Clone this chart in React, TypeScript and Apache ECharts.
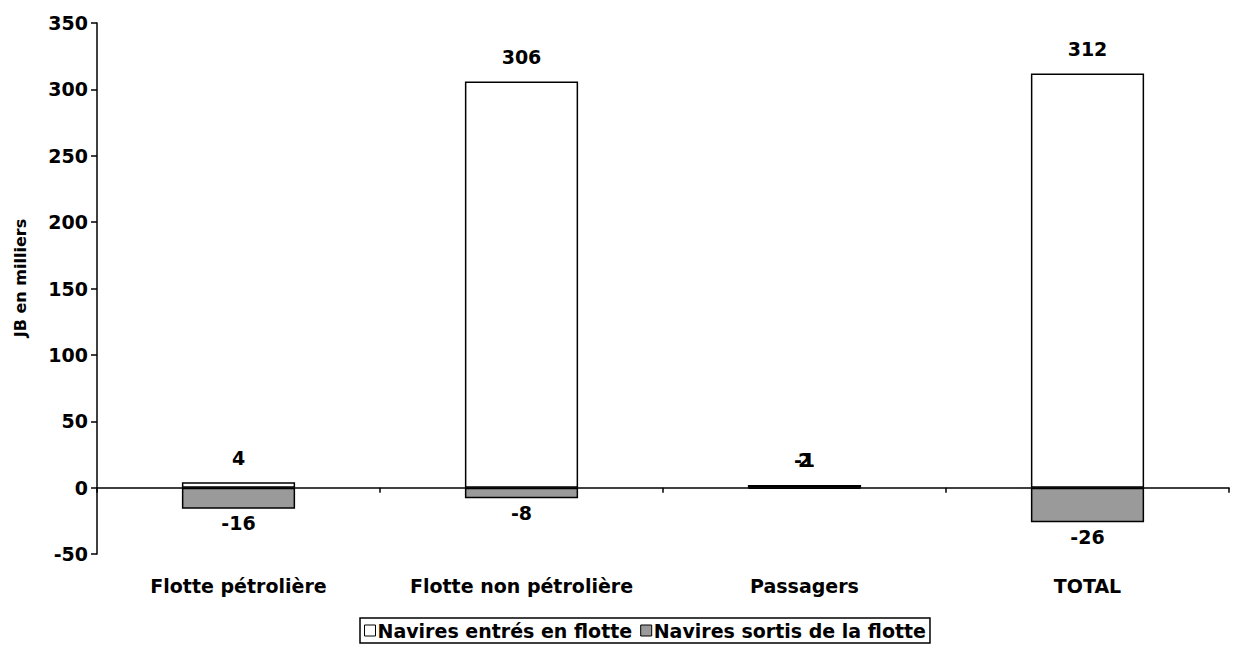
import React, { useEffect, useRef } from "react";
import * as echarts from "echarts";

const categories = ["Flotte pétrolière", "Flotte non pétrolière", "Passagers", "TOTAL"];
const entered = [4, 306, 2, 312];
const exited = [-16, -8, -1, -26];
const seriesNames = ["Navires entrés en flotte", "Navires sortis de la flotte"];
const yAxisName = "JB en milliers";

const FONT = "'DejaVu Sans', 'Liberation Sans', Arial, sans-serif";

export default function App() {
  const ref = useRef<HTMLDivElement>(null);
  useEffect(() => {
    if (!ref.current) return;
    const chart = echarts.init(ref.current, undefined, { renderer: "svg" });
    const labelStyle = {
      show: true,
      color: "#000",
      fontFamily: FONT,
      fontWeight: "bold" as const,
      fontSize: 19,
    };
    chart.setOption({
      animation: false,
      backgroundColor: "#fff",
      textStyle: { fontFamily: FONT },
      grid: { left: 97, right: 18, top: 23, bottom: 109, containLabel: false },
      legend: {
        show: true,
        left: 360,
        top: 618,
        itemWidth: 11,
        itemHeight: 11,
        itemGap: 8,
        padding: [3, 4, 3, 4],
        borderColor: "#000",
        borderWidth: 1.5,
        textStyle: { fontFamily: FONT, fontWeight: "bold", fontSize: 19, color: "#000", padding: [0, 0, 0, -3] },
        data: [
          { name: seriesNames[0], icon: "rect", itemStyle: { color: "#fff", borderColor: "#000", borderWidth: 1 } },
          { name: seriesNames[1], icon: "rect", itemStyle: { color: "#9a9a9a", borderColor: "#000", borderWidth: 1 } },
        ],
      },
      graphic: [
        {
          type: "text",
          x: 20,
          y: 278,
          rotation: Math.PI / 2,
          style: {
            text: yAxisName,
            textAlign: "center",
            textVerticalAlign: "middle",
            fontFamily: FONT,
            fontWeight: "bold",
            fontSize: 16,
            fill: "#000",
          },
        },
      ],
      xAxis: [
        {
          type: "category",
          data: categories,
          axisLine: { onZero: true, lineStyle: { color: "#000", width: 1.5 } },
          axisTick: { show: true, length: 5, lineStyle: { color: "#000", width: 1.5 } },
          axisLabel: { show: false },
          splitLine: { show: false },
        },
        {
          type: "category",
          data: categories,
          position: "bottom",
          axisLine: { show: false },
          axisTick: { show: false },
          axisLabel: {
            show: true,
            interval: 0,
            hideOverlap: false,
            margin: 22,
            color: "#000",
            fontFamily: FONT,
            fontWeight: "bold",
            fontSize: 19,
          },
        },
      ],
      yAxis: {
        type: "value",
        min: -50,
        max: 350,
        interval: 50,
        axisLine: { show: true, lineStyle: { color: "#000", width: 1.5 } },
        axisTick: { show: true, length: 6, lineStyle: { color: "#000", width: 1.5 } },
        axisLabel: { color: "#000", fontFamily: FONT, fontWeight: "bold", fontSize: 19, margin: 9 },
        splitLine: { show: false },
      },
      series: [
        {
          name: seriesNames[0],
          type: "bar",
          stack: "s",
          xAxisIndex: 0,
          barWidth: "40%",
          data: entered,
          itemStyle: { color: "#fff", borderColor: "#000", borderWidth: 1.5 },
          label: { ...labelStyle, position: "top", distance: 15 },
        },
        {
          name: seriesNames[1],
          type: "bar",
          stack: "s",
          xAxisIndex: 0,
          barWidth: "40%",
          data: exited.map((v, i) =>
            i === 2
              ? { value: v, label: { position: "top", distance: 15, offset: [0, -2.6] } }
              : v
          ),
          itemStyle: { color: "#9a9a9a", borderColor: "#000", borderWidth: 1.5 },
          label: { ...labelStyle, position: "bottom", distance: 5 },
        },
      ],
    });
    return () => chart.dispose();
  }, []);
  return <div ref={ref} style={{ width: 1247, height: 663, margin: -8 }} />;
}
